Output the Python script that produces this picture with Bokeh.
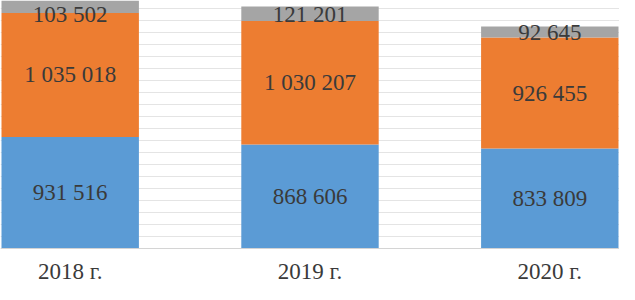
from bokeh.plotting import figure
from bokeh.models import ColumnDataSource, Range1d, FixedTicker
from bokeh.core.properties import value
from bokeh.embed import file_html
from bokeh.resources import INLINE

# ---- data ----
years = ["2018 г.", "2019 г.", "2020 г."]
series_blue = [931516, 868606, 833809]
series_orange = [1035018, 1030207, 926455]
series_gray = [103502, 121201, 92645]
grid_ticks = list(range(0, 2000001, 100000))

colors = ["#5B9BD5", "#ED7D31", "#A5A5A5"]
FONT = value("Liberation Serif")
TXT = "#3a3a3a"

W, H = 619, 284
Y0, Y1 = -300200, 2070000
per_px = (Y1 - Y0) / H

xs = list(range(len(years)))
src = ColumnDataSource(dict(x=xs, blue=series_blue, orange=series_orange, gray=series_gray))

p = figure(width=W, height=H, output_backend="svg", toolbar_location=None,
           x_range=Range1d(-0.2907, 2.2907), y_range=Range1d(Y0, Y1),
           min_border=0, outline_line_color=None)
p.axis.visible = False
p.xgrid.visible = False
p.ygrid.ticker = FixedTicker(ticks=grid_ticks)
p.ygrid.grid_line_color = "#e4e4e4"
p.ygrid.grid_line_width = 1

p.vbar_stack(["blue", "orange", "gray"], x="x", width=0.573, color=colors,
             line_color=None, source=src)

# base line
p.segment(x0=[-0.2907], x1=[2.2907], y0=[0], y1=[0], line_color="#d4d4d4", line_width=1)

# data labels centred in each segment (kept inside the top edge)
top_limit = Y1 - 13.5 * per_px
lx, ly, lt = [], [], []
for i in xs:
    base = 0
    for v in (series_blue[i], series_orange[i], series_gray[i]):
        lx.append(i)
        ly.append(min(base + v / 2, top_limit))
        lt.append(f"{v:,}".replace(",", " "))
        base += v
p.text(x=lx, y=ly, text=lt, text_font=FONT, text_font_size="23px",
       text_color=TXT, text_align="center", text_baseline="middle")

# category labels
cat_y = Y1 - 270.5 * per_px
p.text(x=xs, y=[cat_y] * len(xs), text=years, text_font=FONT, text_font_size="23px",
       text_color=TXT, text_align="center", text_baseline="middle")

open("out.html", "w").write(file_html(p, INLINE))
